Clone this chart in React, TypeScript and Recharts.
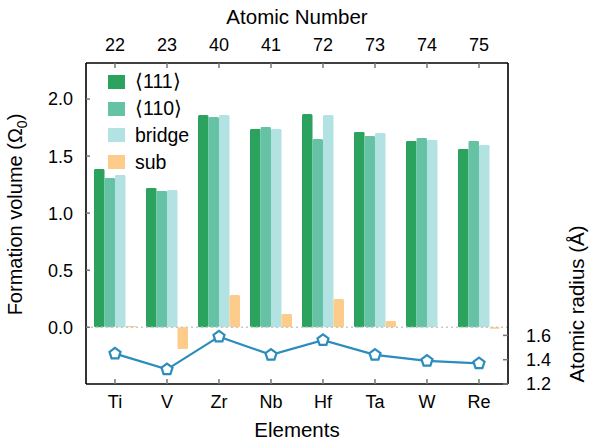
import React from 'react';
import { ComposedChart, Bar, Line, XAxis, YAxis, ReferenceLine, Legend, Label } from 'recharts';

// Elements along the category axis, with their atomic numbers on the top axis
const elements = ['Ti', 'V', 'Zr', 'Nb', 'Hf', 'Ta', 'W', 'Re'];
const atomicNumbers = [22, 23, 40, 41, 72, 73, 74, 75];

// Formation volumes (in units of Omega_0) for each configuration
const vol111 = [1.387, 1.221, 1.861, 1.738, 1.870, 1.712, 1.633, 1.563];
const vol110 = [1.309, 1.195, 1.843, 1.755, 1.650, 1.677, 1.659, 1.633];
const volBridge = [1.335, 1.204, 1.861, 1.738, 1.861, 1.703, 1.642, 1.598];
const volSub = [0.012, -0.19, 0.283, 0.117, 0.248, 0.055, 0.0, -0.012];

// Atomic radius (Angstrom)
const radius = [1.45, 1.32, 1.59, 1.44, 1.56, 1.44, 1.39, 1.37];

const volTicks = [0, 0.5, 1.0, 1.5, 2.0];
const radiusTicks = [1.2, 1.4, 1.6];
const legendOrder = ['v111', 'v110', 'bridge', 'sub'];

const rows = elements.map((el, i) => ({
  el,
  z: atomicNumbers[i],
  v111: vol111[i],
  v110: vol110[i],
  bridge: volBridge[i],
  sub: volSub[i],
  radius: radius[i],
}));

const FONT = '"Liberation Sans", Arial, Helvetica, sans-serif';
const C111 = '#2ca25f';
const C110 = '#66c2a4';
const CBRIDGE = '#b2e2e2';
const CSUB = '#fdcc8a';
const CLINE = '#2b8cbe';

const tickStyle = { fontSize: 18, fill: '#000', fontFamily: FONT };
const frame = { stroke: '#000', strokeWidth: 1.6 };
const tickLn = { stroke: '#777', strokeWidth: 1.5 };

const Pentagon = (props: any) => {
  const { cx, cy, index } = props;
  if (cx == null || cy == null) return null;
  const r = 5.8;
  const pts = [0, 1, 2, 3, 4]
    .map((i) => {
      const a = -Math.PI / 2 + (i * 2 * Math.PI) / 5;
      return `${cx + r * Math.cos(a)},${cy + r * Math.sin(a)}`;
    })
    .join(' ');
  return <polygon key={`pent-${index}`} points={pts} fill="#fff" stroke={CLINE} strokeWidth={2.2} />;
};

const LeftTitle = (props: any) => {
  const vb = props.viewBox;
  const x = vb.x + 21.5;
  const y = vb.y + vb.height / 2 - 9;
  return (
    <text x={x} y={y} transform={`rotate(-90 ${x} ${y})`} textAnchor="middle" fontSize={20} fontFamily={FONT} fill="#000">
      Formation volume (Ω<tspan dy={5} fontSize={14}>0</tspan>
      <tspan dy={-5}>)</tspan>
    </text>
  );
};

const RightTitle = (props: any) => {
  const vb = props.viewBox;
  const x = vb.x + vb.width - 6;
  const y = vb.y + vb.height - 80;
  return (
    <text x={x} y={y} transform={`rotate(-90 ${x} ${y})`} textAnchor="middle" fontSize={20.5} fontFamily={FONT} fill="#000">
      Atomic radius (Å)
    </text>
  );
};

const LegendBox = (props: any) => {
  const items = (props.payload || [])
    .filter((p: any) => legendOrder.includes(p.dataKey))
    .sort((a: any, b: any) => legendOrder.indexOf(a.dataKey) - legendOrder.indexOf(b.dataKey));
  return (
    <div style={{ fontFamily: FONT, fontSize: 19.5, color: '#000' }}>
      {items.map((p: any) => (
        <div key={p.dataKey} style={{ display: 'flex', alignItems: 'center', height: 26.7 }}>
          <span style={{ display: 'inline-block', width: 17, height: 14, background: p.color, marginRight: 10 }} />
          <span>{p.value}</span>
        </div>
      ))}
    </div>
  );
};

export default function App() {
  return (
    <div style={{ position: 'absolute', left: 0, top: 0, width: 590, height: 445, background: '#fff' }}>
      <ComposedChart
        width={590}
        height={445}
        data={rows}
        margin={{ top: 0, right: 0, bottom: 0, left: 0 }}
        barGap={0}
      >
        <XAxis
          xAxisId="bottom"
          dataKey="el"
          orientation="bottom"
          height={61}
          padding={{ left: 3, right: 3 }}
          interval={0}
          axisLine={frame}
          tickLine={tickLn}
          tickSize={-5}
          tickMargin={16}
          tick={tickStyle}
        >
          <Label value="Elements" position="insideBottom" offset={8} fontSize={20.5} fontFamily={FONT} fill="#000" />
        </XAxis>
        <XAxis
          xAxisId="top"
          dataKey="z"
          orientation="top"
          height={63}
          padding={{ left: 3, right: 3 }}
          interval={0}
          axisLine={frame}
          tickLine={tickLn}
          tickSize={-5}
          tickMargin={17}
          tick={tickStyle}
        >
          <Label value="Atomic Number" position="insideTop" offset={9} fontSize={20.5} fontFamily={FONT} fill="#000" />
        </XAxis>
        <YAxis
          yAxisId="vol"
          orientation="left"
          width={86}
          type="number"
          domain={[-0.497, 2.316]}
          ticks={volTicks}
          interval={0}
          allowDataOverflow
          tickFormatter={(v: number) => v.toFixed(1)}
          axisLine={frame}
          tickLine={tickLn}
          tickSize={-4}
          tickMargin={17}
          tick={tickStyle}
        >
          <Label content={<LeftTitle />} />
        </YAxis>
        <YAxis
          yAxisId="rad"
          orientation="right"
          width={82}
          type="number"
          domain={[1.2, 3.842]}
          ticks={radiusTicks}
          interval={0}
          allowDataOverflow
          tickFormatter={(v: number) => v.toFixed(1)}
          axisLine={frame}
          tickLine={tickLn}
          tickSize={-5}
          tickMargin={23}
          tick={tickStyle}
        >
          <Label content={<RightTitle />} />
        </YAxis>

        <Bar xAxisId="bottom" yAxisId="vol" dataKey="v111" name="⟨111⟩" fill={C111} barSize={10.5} isAnimationActive={false} />
        <Bar xAxisId="bottom" yAxisId="vol" dataKey="v110" name="⟨110⟩" fill={C110} barSize={10.5} isAnimationActive={false} />
        <Bar xAxisId="bottom" yAxisId="vol" dataKey="bridge" name="bridge" fill={CBRIDGE} barSize={10.5} isAnimationActive={false} />
        <Bar xAxisId="bottom" yAxisId="vol" dataKey="sub" name="sub" fill={CSUB} barSize={10.5} isAnimationActive={false} />

        <ReferenceLine xAxisId="bottom" yAxisId="vol" y={0} stroke="#c8c8c8" strokeWidth={1.5} strokeDasharray="2 3" />

        <Line
          xAxisId="bottom"
          yAxisId="rad"
          dataKey="radius"
          name="radius"
          stroke={CLINE}
          strokeWidth={2.2}
          dot={<Pentagon />}
          legendType="none"
          isAnimationActive={false}
        />

        <Legend
          layout="vertical"
          align="center"
          verticalAlign="middle"
          content={<LegendBox />}
          wrapperStyle={{ left: 108, top: 68.6, width: 'auto', right: 'auto', bottom: 'auto' }}
        />
      </ComposedChart>
    </div>
  );
}
